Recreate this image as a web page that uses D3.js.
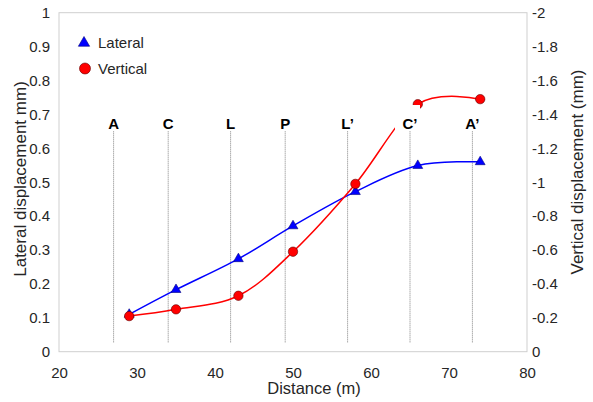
<!DOCTYPE html>
<html>
<head>
<meta charset="utf-8">
<script src="https://cdn.jsdelivr.net/npm/d3@7"></script>
<style>
  html, body { margin: 0; padding: 0; background: #fff; }
  svg { display: block; font-family: "Liberation Sans", Arial, sans-serif; }
</style>
</head>
<body>
<svg id="chart" width="593" height="402"></svg>
<script>
// ---- data ----
const distance = [29, 35, 43, 50, 58, 66, 74];
const lateral = [0.11, 0.183, 0.274, 0.371, 0.472, 0.549, 0.560];
const vertical = [-0.21, -0.25, -0.33, -0.59, -0.99, -1.46, -1.49];
const sectionNames = ["A", "C", "L", "P", "L\u2019", "C\u2019", "A\u2019"];
const sectionPos = [27, 34, 42, 49, 57, 65, 73];
const xTicks = [20, 30, 40, 50, 60, 70, 80];
const yLeftTicks = [0, 0.1, 0.2, 0.3, 0.4, 0.5, 0.6, 0.7, 0.8, 0.9, 1];
const yRightTicks = [0, -0.2, -0.4, -0.6, -0.8, -1, -1.2, -1.4, -1.6, -1.8, -2];
const seriesNames = ["Lateral", "Vertical"];

// ---- layout ----
const pLeft = 59, pRight = 527, pTop = 12.7, pBottom = 351.7;
const svg = d3.select("#chart");
const x = d3.scaleLinear().domain([20, 80]).range([pLeft, pRight]);
const yL = d3.scaleLinear().domain([0, 1]).range([pBottom, pTop]);
const yR = d3.scaleLinear().domain([0, -2]).range([pBottom, pTop]);
const textColor = "#262626";
const fmt = v => String(+v.toFixed(2));

// frame
svg.append("rect")
  .attr("x", pLeft).attr("y", pTop)
  .attr("width", pRight - pLeft).attr("height", pBottom - pTop)
  .attr("fill", "none").attr("stroke", "#cfcfcf").attr("stroke-width", 1);

// x axis
const xAxis = d3.axisBottom(x).tickValues(xTicks).tickSize(0).tickPadding(0).tickFormat(fmt);
const gx = svg.append("g").attr("transform", `translate(0,${pBottom})`).call(xAxis);
gx.select(".domain").remove();
gx.selectAll("text").attr("y", 26).attr("dy", null).attr("font-size", 15)
  .attr("fill", textColor).attr("font-family", "Liberation Sans, Arial, sans-serif");

// left axis
const yAxisL = d3.axisLeft(yL).tickValues(yLeftTicks).tickSize(0).tickPadding(9).tickFormat(fmt);
const gyl = svg.append("g").attr("transform", `translate(${pLeft},0)`).call(yAxisL);
gyl.select(".domain").remove();
gyl.selectAll("text").attr("font-size", 15).attr("fill", textColor)
  .attr("font-family", "Liberation Sans, Arial, sans-serif");

// right axis
const yAxisR = d3.axisRight(yR).tickValues(yRightTicks).tickSize(0).tickPadding(5).tickFormat(fmt);
const gyr = svg.append("g").attr("transform", `translate(${pRight},0)`).call(yAxisR);
gyr.select(".domain").remove();
gyr.selectAll("text").attr("font-size", 15).attr("fill", textColor)
  .attr("font-family", "Liberation Sans, Arial, sans-serif");

// axis titles
svg.append("text").attr("x", 314).attr("y", 394)
  .attr("text-anchor", "middle").attr("font-size", 16.5).attr("fill", textColor)
  .text("Distance (m)");
svg.append("text").attr("transform", `translate(26,179) rotate(-90)`)
  .attr("text-anchor", "middle").attr("font-size", 17).attr("fill", textColor)
  .text("Lateral displacement mm)");
svg.append("text").attr("transform", `translate(583,172) rotate(-90)`)
  .attr("text-anchor", "middle").attr("font-size", 17).attr("fill", textColor)
  .text("Vertical displacement (mm)");

// section dotted lines
svg.append("g").selectAll("line").data(sectionPos).join("line")
  .attr("x1", d => x(d)).attr("x2", d => x(d))
  .attr("y1", yL(0.65)).attr("y2", yL(0.025))
  .attr("stroke", "#808080").attr("stroke-width", 1).attr("stroke-dasharray", "1,1");

// curves
const curve = d3.curveCatmullRom.alpha(0);
const lineL = d3.line().x((d, i) => x(distance[i])).y(d => yL(d)).curve(curve);
const lineR = d3.line().x((d, i) => x(distance[i])).y(d => yR(d)).curve(curve);

svg.append("path").attr("d", lineL(lateral)).attr("fill", "none")
  .attr("stroke", "#0000ff").attr("stroke-width", 1.5);
svg.append("path").attr("d", lineR(vertical)).attr("fill", "none")
  .attr("stroke", "#ff0000").attr("stroke-width", 1.5);

// markers
const tri = d3.symbol().type(d3.symbolTriangle).size(42);
svg.append("g").selectAll("path").data(lateral).join("path")
  .attr("d", tri)
  .attr("transform", (d, i) => `translate(${x(distance[i])},${yL(d)})`)
  .attr("fill", "#0000ff").attr("stroke", "#000080").attr("stroke-width", 0.6);
svg.append("g").selectAll("circle").data(vertical).join("circle")
  .attr("cx", (d, i) => x(distance[i])).attr("cy", d => yR(d)).attr("r", 4.7)
  .attr("fill", "#ff0000").attr("stroke", "#600000").attr("stroke-width", 0.6);

// section labels with white boxes
const lab = svg.append("g").selectAll("g").data(sectionNames).join("g")
  .attr("transform", (d, i) => `translate(${x(sectionPos[i])},0)`);
lab.append("rect").attr("x", -15).attr("y", 105).attr("width", 25).attr("height", 26)
  .attr("fill", "#fff");
lab.append("text").attr("y", 128.5).attr("text-anchor", "middle")
  .attr("font-size", 15).attr("font-weight", "bold").attr("fill", "#000")
  .text(d => d);

// legend
const leg = svg.append("g");
leg.append("path").attr("d", d3.symbol().type(d3.symbolTriangle).size(55))
  .attr("transform", "translate(84,43)")
  .attr("fill", "#0000ff").attr("stroke", "#000080").attr("stroke-width", 0.6);
leg.append("circle").attr("cx", 85).attr("cy", 68.5).attr("r", 5.5)
  .attr("fill", "#ff0000").attr("stroke", "#600000").attr("stroke-width", 0.6);
leg.selectAll("text").data(seriesNames).join("text")
  .attr("x", 98).attr("y", (d, i) => 47.5 + i * 26.5)
  .attr("font-size", 15).attr("fill", textColor).text(d => d);
</script>
</body>
</html>
